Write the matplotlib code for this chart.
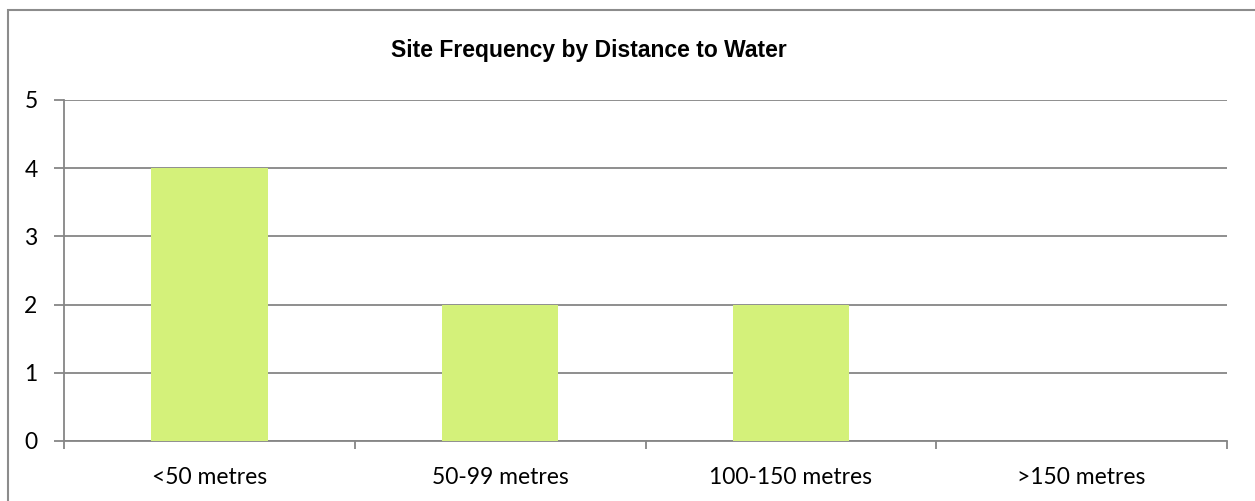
import matplotlib
matplotlib.use("Agg")
import matplotlib.pyplot as plt
from matplotlib.patches import Rectangle
from matplotlib.font_manager import fontManager

# values
categories = ['<50 metres', '50-99 metres', '100-150 metres', '>150 metres']
site_counts = [4, 2, 2, 0]
y_ticks = [0, 1, 2, 3, 4, 5]

installed = {f.name for f in fontManager.ttflist}
title_font = 'Liberation Sans Narrow' if 'Liberation Sans Narrow' in installed else 'Liberation Sans'
title_size = 18 if title_font == 'Liberation Sans Narrow' else 16.5

fig = plt.figure(figsize=(12.55, 5.01), dpi=100)
ax = fig.add_axes([0.051, 0.1198, 0.9267, 0.6806])

grid_col = '#868686'
x = range(len(categories))
ax.bar(x, site_counts, width=0.40, color='#d4f17a', zorder=3)

ax.set_xlim(-0.5, len(categories) - 0.5)
ax.set_ylim(0, 5)
ax.set_yticks(y_ticks)
ax.set_yticklabels([str(v) for v in y_ticks], fontsize=16.5, family='Lato')
ax.yaxis.grid(True, color=grid_col, linewidth=1.3, zorder=0)

# category labels centred, tick marks at category boundaries
ax.set_xticks(list(x))
ax.set_xticklabels(categories, fontsize=16.5, family='Lato')
ax.tick_params(axis='x', length=0, pad=19)
ax.set_xticks([i - 0.5 for i in range(len(categories) + 1)], minor=True)
ax.tick_params(axis='x', which='minor', length=6, width=1.3, color=grid_col, direction='out')
ax.tick_params(axis='y', length=7, width=1.3, color=grid_col, pad=12)

for side in ['top', 'right']:
    ax.spines[side].set_visible(False)
for side in ['left', 'bottom']:
    ax.spines[side].set_color(grid_col)
    ax.spines[side].set_linewidth(1.3)

fig.text(0.469, 0.90, 'Site Frequency by Distance to Water', ha='center', va='center',
         fontsize=title_size, fontweight='bold', family=title_font)

# outer chart border
fig.patches.append(Rectangle((8 / 1255, -0.02), 1.05, 1 - 10 / 501 + 0.02,
                             transform=fig.transFigure, fill=False,
                             edgecolor='#8c8c8c', linewidth=1.5))

fig.savefig('out.png', dpi=100)
